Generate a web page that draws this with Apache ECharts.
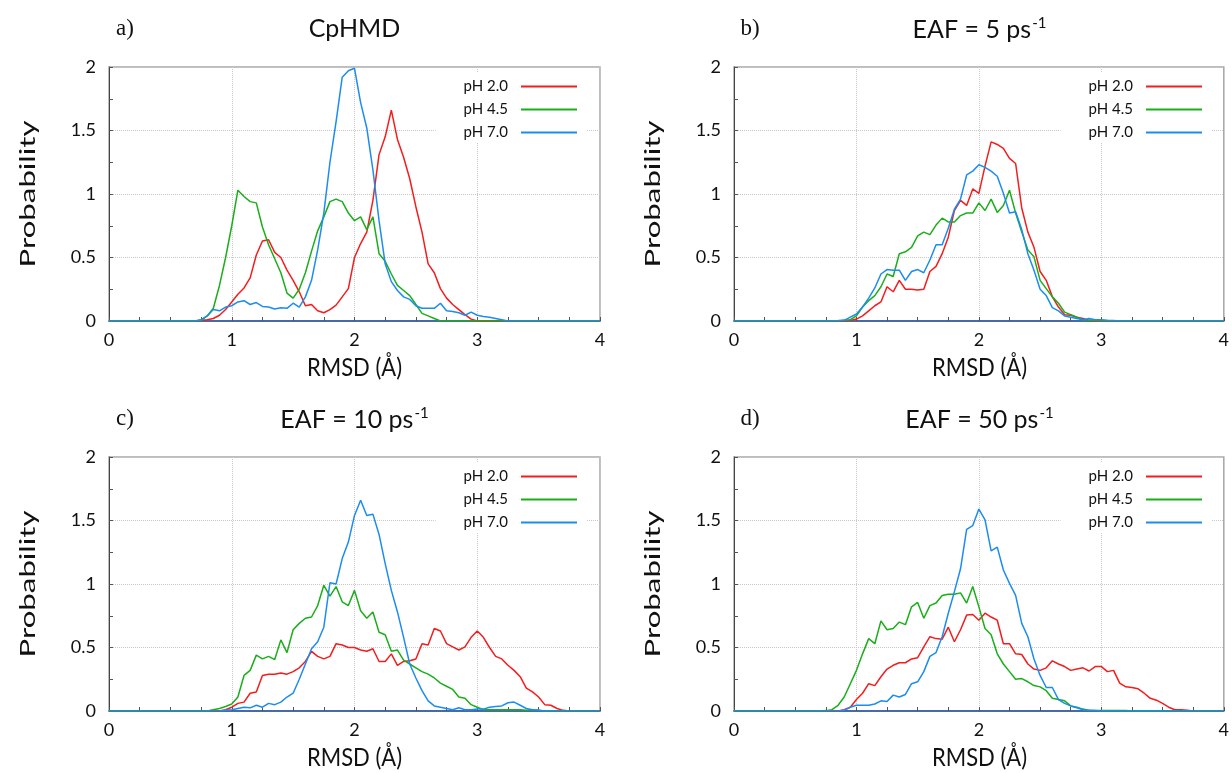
<!DOCTYPE html>
<html><head><meta charset="utf-8">
<script src="https://cdn.jsdelivr.net/npm/echarts@6/dist/echarts.min.js"></script>
<style>html,body{margin:0;padding:0;background:#fff}#c{width:1232px;height:773px}</style>
</head><body><div id="c"></div>
<script>
// RMSD grid (Å)
const rmsd = [
0,0.05,0.1,0.15,0.2,0.25,0.3,0.35,0.4,0.45,
0.5,0.55,0.6,0.65,0.7,0.75,0.8,0.85,0.9,0.95,
1,1.05,1.1,1.15,1.2,1.25,1.3,1.35,1.4,1.45,
1.5,1.55,1.6,1.65,1.7,1.75,1.8,1.85,1.9,1.95,
2,2.05,2.1,2.15,2.2,2.25,2.3,2.35,2.4,2.45,
2.5,2.55,2.6,2.65,2.7,2.75,2.8,2.85,2.9,2.95,
3,3.05,3.1,3.15,3.2,3.25,3.3,3.35,3.4,3.45,
3.5,3.55,3.6,3.65,3.7,3.75,3.8,3.85,3.9,3.95,
4];
const seriesNames = ['pH 2.0','pH 4.5','pH 7.0'];
const xTicks = [0,1,2,3,4];
const yTicks = [0,0.5,1,1.5,2];
const panelLetters = ['a)','b)','c)','d)'];
const panelTitles = ['CpHMD','EAF = 5 ps','EAF = 10 ps','EAF = 50 ps'];

// a) CpHMD
const cphmd_pH20 = [
0,0,0,0,0,0,0,0,0,0,
0,0,0,0,0,0.005,0.01,0.02,0.045,0.09,
0.15,0.21,0.26,0.34,0.52,0.63,0.64,0.54,0.50,0.40,
0.32,0.23,0.12,0.13,0.08,0.065,0.09,0.125,0.19,0.255,
0.50,0.61,0.70,0.95,1.31,1.45,1.66,1.43,1.29,1.12,
0.90,0.70,0.45,0.38,0.255,0.18,0.13,0.09,0.05,0.015,
0,0,0,0,0,0,0,0,0,0,
0,0,0,0,0,0,0,0,0,0,
0];
const cphmd_pH45 = [
0,0,0,0,0,0,0,0,0,0,
0,0,0,0,0,0.005,0.04,0.10,0.28,0.50,
0.75,1.03,0.98,0.94,0.93,0.74,0.60,0.49,0.38,0.22,
0.18,0.25,0.38,0.55,0.71,0.82,0.94,0.96,0.94,0.85,
0.79,0.82,0.72,0.82,0.53,0.47,0.37,0.28,0.24,0.20,
0.13,0.06,0.04,0.02,0,0,0,0,0,0,
0,0,0,0,0,0,0,0,0,0,
0,0,0,0,0,0,0,0,0,0,
0];
const cphmd_pH70 = [
0,0,0,0,0,0,0,0,0,0,
0,0,0,0,0,0.01,0.04,0.09,0.08,0.11,
0.12,0.15,0.16,0.13,0.145,0.115,0.11,0.095,0.105,0.10,
0.14,0.11,0.19,0.32,0.56,0.85,1.25,1.57,1.92,1.97,
1.99,1.72,1.52,1.19,0.79,0.45,0.31,0.24,0.19,0.17,
0.12,0.10,0.10,0.10,0.14,0.08,0.075,0.065,0.045,0.07,
0.045,0.035,0.03,0.02,0.01,0,0,0,0,0,
0,0,0,0,0,0,0,0,0,0,
0];

// b) EAF = 5 ps-1
const eaf5_pH20 = [
0,0,0,0,0,0,0,0,0,0,
0,0,0,0,0,0,0,0,0,0.005,
0.015,0.04,0.08,0.12,0.15,0.27,0.23,0.32,0.25,0.25,
0.245,0.25,0.39,0.43,0.53,0.66,0.87,0.95,0.91,1.04,
1.005,1.22,1.41,1.39,1.36,1.28,1.24,0.89,0.70,0.58,
0.39,0.32,0.19,0.11,0.05,0.045,0.03,0.02,0.005,0,
0,0,0,0,0,0,0,0,0,0,
0,0,0,0,0,0,0,0,0,0,
0];
const eaf5_pH45 = [
0,0,0,0,0,0,0,0,0,0,
0,0,0,0,0,0,0,0,0.005,0.01,
0.04,0.11,0.16,0.20,0.27,0.37,0.35,0.53,0.545,0.58,
0.67,0.70,0.68,0.755,0.81,0.78,0.78,0.83,0.85,0.85,
0.93,0.87,0.96,0.855,0.91,1.03,0.85,0.70,0.56,0.505,
0.32,0.255,0.19,0.14,0.07,0.05,0.03,0.01,0.005,0.005,
0,0,0,0,0,0,0,0,0,0,
0,0,0,0,0,0,0,0,0,0,
0];
const eaf5_pH70 = [
0,0,0,0,0,0,0,0,0,0,
0,0,0,0,0,0,0.002,0.003,0.005,0.03,
0.055,0.11,0.18,0.26,0.37,0.405,0.40,0.40,0.32,0.39,
0.405,0.38,0.48,0.60,0.60,0.73,0.88,0.96,1.15,1.18,
1.23,1.21,1.18,1.14,1.005,0.85,0.86,0.72,0.53,0.40,
0.25,0.20,0.105,0.08,0.04,0.03,0.02,0.01,0.02,0.01,
0.01,0.005,0.003,0,0,0,0,0,0,0,
0,0,0,0,0,0,0,0,0,0,
0];

// c) EAF = 10 ps-1
const eaf10_pH20 = [
0,0,0,0,0,0,0,0,0,0,
0,0,0,0,0,0,0,0,0,0.01,
0.03,0.06,0.07,0.14,0.15,0.28,0.29,0.29,0.30,0.29,
0.31,0.34,0.39,0.47,0.43,0.41,0.43,0.53,0.52,0.50,
0.50,0.48,0.47,0.49,0.39,0.39,0.45,0.36,0.39,0.395,
0.41,0.53,0.52,0.65,0.63,0.53,0.505,0.48,0.505,0.58,
0.63,0.58,0.50,0.43,0.41,0.36,0.32,0.27,0.18,0.15,
0.11,0.05,0.045,0.02,0.005,0,0,0,0,0,
0];
const eaf10_pH45 = [
0,0,0,0,0,0,0,0,0,0,
0,0,0,0,0,0,0,0.01,0.02,0.035,
0.055,0.11,0.28,0.32,0.44,0.41,0.43,0.405,0.56,0.46,
0.64,0.69,0.73,0.74,0.83,0.99,0.905,0.98,0.86,0.83,
0.95,0.79,0.73,0.78,0.62,0.60,0.47,0.48,0.40,0.37,
0.34,0.31,0.29,0.26,0.22,0.195,0.17,0.11,0.10,0.05,
0.03,0.01,0.01,0.01,0.01,0.01,0.01,0.01,0.005,0.01,
0.005,0,0,0,0,0,0,0,0,0,
0];
const eaf10_pH70 = [
0,0,0,0,0,0,0,0,0,0,
0,0,0,0,0,0,0,0,0,0.005,
0.01,0.02,0.03,0.025,0.045,0.03,0.06,0.05,0.07,0.11,
0.14,0.25,0.37,0.49,0.545,0.66,1.01,1.00,1.20,1.33,
1.54,1.66,1.54,1.55,1.39,1.16,0.95,0.78,0.58,0.37,
0.26,0.16,0.08,0.04,0.03,0.02,0.01,0.025,0.01,0.01,
0.015,0.015,0.03,0.035,0.04,0.065,0.07,0.045,0.02,0.01,
0.005,0,0,0,0,0,0,0,0,0,
0];

// d) EAF = 50 ps-1
const eaf50_pH20 = [
0,0,0,0,0,0,0,0,0,0,
0,0,0,0,0,0,0,0,0.01,0.03,
0.09,0.14,0.215,0.20,0.27,0.33,0.36,0.38,0.38,0.41,
0.42,0.505,0.585,0.57,0.565,0.66,0.545,0.64,0.755,0.76,
0.715,0.77,0.74,0.715,0.53,0.53,0.45,0.445,0.37,0.33,
0.32,0.34,0.395,0.37,0.35,0.32,0.33,0.34,0.315,0.35,
0.35,0.31,0.32,0.22,0.19,0.185,0.175,0.14,0.10,0.085,
0.06,0.03,0.01,0.01,0.005,0,0,0,0,0,
0];
const eaf50_pH45 = [
0,0,0,0,0,0,0,0,0,0,
0,0,0,0,0,0.003,0.01,0.045,0.11,0.215,
0.32,0.45,0.57,0.53,0.71,0.64,0.65,0.70,0.68,0.82,
0.855,0.73,0.83,0.85,0.91,0.92,0.92,0.93,0.85,0.98,
0.82,0.65,0.60,0.45,0.37,0.31,0.25,0.255,0.23,0.20,
0.19,0.16,0.10,0.09,0.08,0.04,0.03,0.015,0.005,0.003,
0.003,0.003,0.003,0.003,0.003,0,0,0,0,0,
0,0,0,0,0,0,0,0,0,0,
0];
const eaf50_pH70 = [
0,0,0,0,0,0,0,0,0,0,
0,0,0,0,0,0,0,0,0.005,0.03,
0.045,0.045,0.045,0.055,0.08,0.075,0.125,0.11,0.13,0.215,
0.23,0.31,0.43,0.46,0.585,0.77,0.94,1.12,1.43,1.46,
1.59,1.505,1.26,1.29,1.11,1.005,0.91,0.69,0.585,0.41,
0.28,0.185,0.185,0.09,0.06,0.04,0.025,0.01,0.005,0.003,
0,0,0,0,0,0,0,0,0,0,
0,0,0,0,0,0,0,0,0,0,
0];

const panelData = [
  [cphmd_pH20, cphmd_pH45, cphmd_pH70],
  [eaf5_pH20, eaf5_pH45, eaf5_pH70],
  [eaf10_pH20, eaf10_pH45, eaf10_pH70],
  [eaf50_pH20, eaf50_pH45, eaf50_pH70]
];
const hasSup = [false, true, true, true];

const colors = ['#f41c1c', '#1aae1a', '#1c8cf0'];
const FONT = 'Lato';
const PW = 491, PH = 254;
const pos = [{l:109,t:67},{l:734,t:67},{l:109,t:457},{l:734,t:457}];

const grids = [], xAxes = [], yAxes = [], series = [], legends = [], graphics = [];
pos.forEach((p, i) => {
  grids.push({left:p.l, top:p.t, width:PW, height:PH, show:true, borderColor:'#a8a8a8', borderWidth:1.5, backgroundColor:'transparent'});
  xAxes.push({
    type:'value', gridIndex:i, min:xTicks[0], max:xTicks[xTicks.length-1], interval:1,
    axisLine:{show:true, onZero:false, lineStyle:{color:'#1f4fa0', width:1.5}},
    axisTick:{show:true, inside:true, length:4, lineStyle:{color:'#555'}},
    minorTick:{show:true, splitNumber:4, length:4, lineStyle:{color:'#555'}},
    splitLine:{show:true, lineStyle:{color:'#c8c8c8', type:'dotted', width:1}},
    axisLabel:{fontFamily:FONT, fontSize:18, color:'#111', margin:10}
  });
  yAxes.push({
    type:'value', gridIndex:i, min:yTicks[0], max:yTicks[yTicks.length-1], interval:0.5,
    axisLine:{show:true, onZero:false, lineStyle:{color:'#444', width:1}},
    axisTick:{show:true, inside:true, length:4, lineStyle:{color:'#555'}},
    minorTick:{show:true, splitNumber:2, length:4, lineStyle:{color:'#555'}},
    splitLine:{show:true, lineStyle:{color:'#c8c8c8', type:'dotted', width:1}},
    axisLabel:{fontFamily:FONT, fontSize:18, color:'#111', margin:13}
  });
  panelData[i].forEach((ys, k) => {
    series.push({
      name:seriesNames[k], type:'line', xAxisIndex:i, yAxisIndex:i,
      symbol:'none', smooth:false, animation:false,
      color:colors[k], lineStyle:{color:colors[k], width:1.5},
      data: rmsd.map((x, j) => [x, ys[j]])
    });
  });
  legends.push({
    data:seriesNames, orient:'vertical', align:'right',
    right: 1232 - (p.l + PW - 13), top: p.t + 5,
    itemWidth:56, itemHeight:14, itemGap:8,
    icon:'path://M0,0 L56,0 L56,2 L0,2 Z',
    padding:[7,10,3,28], backgroundColor:'#fff',
    textStyle:{fontFamily:FONT, fontSize:15, color:'#111', padding:[0,8,0,0]}
  });
  const cx = p.l + PW/2;
  const ty = p.t - 38;
  graphics.push({
    type:'text', x:p.l + 16, y:ty, silent:true,
    style:{text:panelLetters[i], fontFamily:'Liberation Serif', fontSize:23, fill:'#111', align:'center', verticalAlign:'middle'}
  });
  graphics.push({
    type:'text', x:cx, y:ty, silent:true,
    style: hasSup[i] ? {
      text:'{m|' + panelTitles[i] + '}{s|-1}', align:'center', verticalAlign:'middle', fill:'#111',
      rich:{ m:{fontFamily:FONT, fontSize:25, verticalAlign:'bottom', fill:'#111'},
             s:{fontFamily:FONT, fontSize:15, verticalAlign:'bottom', padding:[0,0,11,1], fill:'#111'} }
    } : {text:panelTitles[i], fontFamily:FONT, fontSize:25, fill:'#111', align:'center', verticalAlign:'middle'}
  });
  graphics.push({
    type:'text', x:cx, y:p.t + PH + 47, scaleY:1.15, silent:true,
    style:{text:'RMSD (Å)', fontFamily:FONT, fontSize:22, fill:'#111', align:'center', verticalAlign:'middle'}
  });
  graphics.push({
    type:'text', x:p.l - 81, y:p.t + 127, rotation:Math.PI/2, scaleX:1.42, silent:true,
    style:{text:'Probability', fontFamily:FONT, fontSize:22, fill:'#111', align:'center', verticalAlign:'middle'}
  });
});

const chart = echarts.init(document.getElementById('c'), null, {renderer:'canvas'});
chart.setOption({
  animation:false, backgroundColor:'#fff',
  grid:grids, xAxis:xAxes, yAxis:yAxes, series:series, legend:legends, graphic:graphics
});
</script></body></html>
